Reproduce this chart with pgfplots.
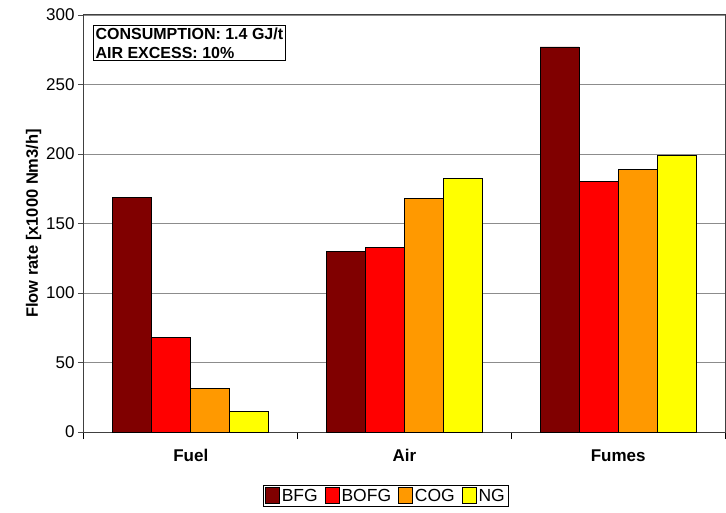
\documentclass[border=0pt]{standalone}
\usepackage{fontspec}
\setmainfont{Liberation Sans}
\usepackage{pgfplots}
\pgfplotsset{compat=1.18}
\definecolor{bfg}{HTML}{800000}
\definecolor{bofg}{HTML}{FF0000}
\definecolor{cog}{HTML}{FF9900}
\definecolor{ng}{HTML}{FFFF00}
\begin{document}
\begin{tikzpicture}[x=1pt,y=1pt, font=\fontsize{17}{20}\selectfont]
\useasboundingbox (0,0) rectangle (726,512);
\begin{axis}[
  at={(84pt,80pt)}, anchor=south west,
  scale only axis, width=641pt, height=417pt,
  ybar=0pt, bar width=0.1825,
  xmin=-0.5, xmax=2.5, ymin=0, ymax=300,
  xtick={0,1,2}, xticklabels={Fuel,Air,Fumes},
  x tick label style={font=\bfseries\fontsize{17}{20}\selectfont, yshift=-8pt},
  major x tick style={draw=none},
  minor xtick={-0.5,0.5,1.5,2.5},
  minor x tick style={black, line width=1pt},
  minor tick length=7pt,
  major tick length=6pt,
  tick align=outside,
  xtick pos=bottom, ytick pos=left,
  ytick={0,50,...,300},
  y tick style={black!70, line width=0.8pt},
  ymajorgrids, grid style={black!45, line width=0.8pt},
  axis line style={black!75, line width=1pt},
  ylabel={Flow rate [x1000 Nm3/h]},
  ylabel style={font=\bfseries\fontsize{16.5}{19}\selectfont, yshift=-2pt},
  y tick label style={font=\fontsize{17}{20}\selectfont},
  /pgf/number format/assume math mode=true,
  legend columns=4,
  legend style={at={(0.471,-0.127)}, anchor=north, draw=black, line width=1pt,
    font=\fontsize{17.5}{20}\selectfont, inner sep=1.5pt,
    /tikz/every even column/.append style={column sep=5pt},
    /tikz/every odd column/.append style={column sep=0pt}},
  legend image code/.code={\draw[#1, line width=0.8pt] (0pt,-7pt) rectangle (14pt,9pt);},
  every axis plot/.append style={draw=black, line width=0.8pt},
]
\addplot[fill=bfg] coordinates {(0,169) (1,130) (2,277)};
\addplot[fill=bofg] coordinates {(0,68) (1,133) (2,180)};
\addplot[fill=cog] coordinates {(0,31.5) (1,168) (2,189)};
\addplot[fill=ng] coordinates {(0,15) (1,182.5) (2,199)};
\legend{BFG,BOFG,COG,NG}
\node[draw=black, fill=white, line width=1.2pt, anchor=north west, align=left,
  font=\bfseries\fontsize{16}{19}\selectfont, inner sep=2pt]
  at (rel axis cs:0.014,0.976) {CONSUMPTION: 1.4 GJ/t\\AIR EXCESS: 10\%};
\end{axis}
\end{tikzpicture}
\end{document}
